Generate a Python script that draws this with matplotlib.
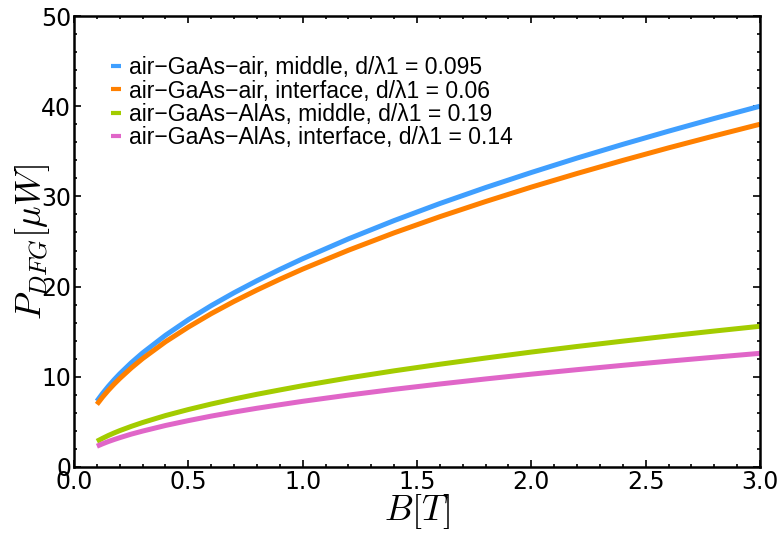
import numpy as np
import matplotlib
matplotlib.use("Agg")
import matplotlib.pyplot as plt
from matplotlib.ticker import MultipleLocator

# values
B = [0.1, 0.125, 0.15, 0.175, 0.2, 0.25, 0.3, 0.4, 0.5, 0.6, 0.7, 0.8, 0.9, 1.0,
     1.2, 1.4, 1.6, 1.8, 2.0, 2.2, 2.4, 2.6, 2.8, 3.0]
P_air_mid = [7.30, 8.16, 8.94, 9.66, 10.33, 11.55, 12.65, 14.60, 16.33, 17.89, 19.32, 20.65, 21.90, 23.09,
             25.29, 27.32, 29.21, 30.98, 32.65, 34.25, 35.77, 37.23, 38.64, 40.0]
P_air_int = [6.94, 7.76, 8.50, 9.18, 9.81, 10.97, 12.02, 13.88, 15.51, 17.0, 18.36, 19.62, 20.81, 21.94,
             24.03, 25.96, 27.75, 29.43, 31.03, 32.54, 33.99, 35.38, 36.71, 38.0]
P_alas_mid = [2.85, 3.18, 3.49, 3.77, 4.03, 4.50, 4.93, 5.70, 6.37, 6.98, 7.54, 8.06, 8.54, 9.01,
              9.87, 10.66, 11.39, 12.08, 12.74, 13.36, 13.95, 14.52, 15.07, 15.6]
P_alas_int = [2.30, 2.57, 2.82, 3.04, 3.25, 3.64, 3.98, 4.60, 5.14, 5.64, 6.09, 6.51, 6.90, 7.28,
              7.97, 8.61, 9.20, 9.76, 10.29, 10.79, 11.27, 11.73, 12.17, 12.6]

labels = ["air\u2212GaAs\u2212air, middle, d/\u03bb1 = 0.095",
          "air\u2212GaAs\u2212air, interface, d/\u03bb1 = 0.06",
          "air\u2212GaAs\u2212AlAs, middle, d/\u03bb1 = 0.19",
          "air\u2212GaAs\u2212AlAs, interface, d/\u03bb1 = 0.14"]
colors = ["#3f9fff", "#ff8000", "#a3cc00", "#e066c8"]

plt.rcParams['mathtext.fontset'] = 'cm'

fig = plt.figure(figsize=(7.81, 5.37), dpi=100)
ax = fig.add_axes([0.0948, 0.1304, 0.8783, 0.8398])

for y, lab, c in zip([P_air_mid, P_air_int, P_alas_mid, P_alas_int], labels, colors):
    ax.plot(B, y, color=c, lw=3.6, label=lab, solid_capstyle='butt')

ax.set_xlim(0, 3.0)
ax.set_ylim(0, 50)
ax.xaxis.set_major_locator(MultipleLocator(0.5))
ax.xaxis.set_minor_locator(MultipleLocator(0.1))
ax.yaxis.set_major_locator(MultipleLocator(10))
ax.yaxis.set_minor_locator(MultipleLocator(2))
ax.tick_params(which='both', direction='in', top=True, right=True, labelsize=17, width=1.2)
ax.tick_params(which='major', length=5, pad=2)
ax.tick_params(which='minor', length=2.5)
for s in ax.spines.values():
    s.set_linewidth(1.8)

ax.set_xlabel(r"$B[T]$", fontsize=26, labelpad=-1)
ax.set_ylabel(r"$P_{DFG}[\mu W]$", fontsize=26, labelpad=-8)

leg = ax.legend(loc='upper left', bbox_to_anchor=(0.04, 0.931), frameon=False,
                prop={'family': 'Liberation Sans', 'size': 16.5},
                handlelength=0.45, handletextpad=0.35, labelspacing=0.01, borderaxespad=0)
for h in leg.get_lines():
    h.set_linewidth(3)

fig.savefig("out.png", dpi=100)
